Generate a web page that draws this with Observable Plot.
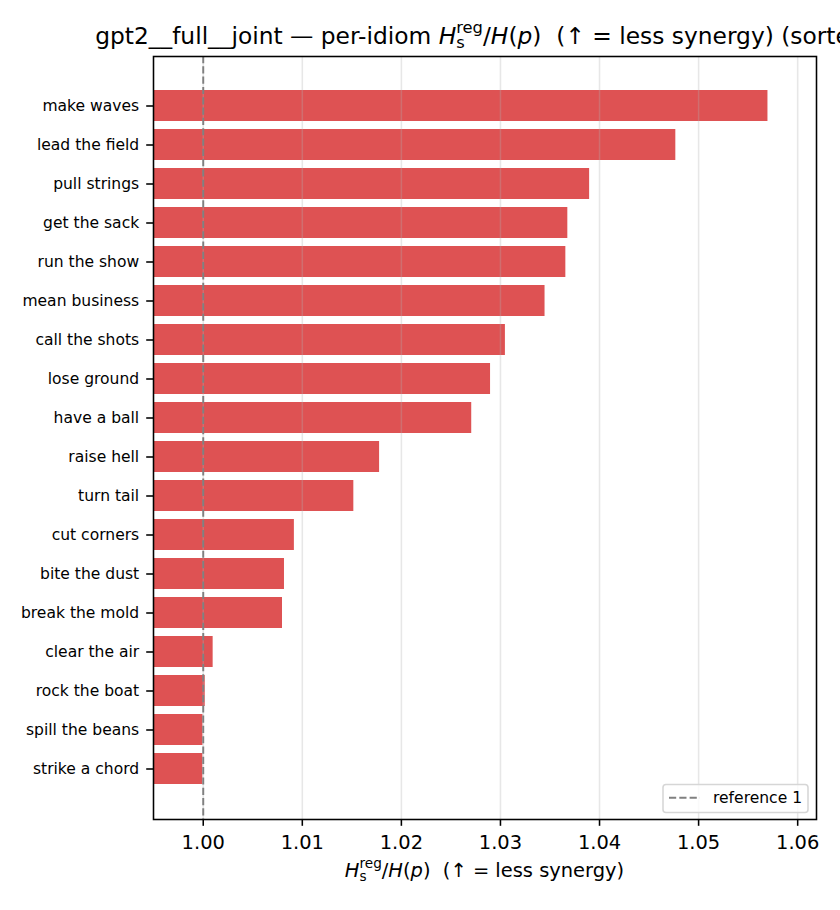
<!DOCTYPE html>
<html>
<head>
<meta charset="utf-8">
<script src="https://cdn.jsdelivr.net/npm/d3@7"></script>
<script src="https://cdn.jsdelivr.net/npm/@observablehq/plot@0.6"></script>
<style>
  html, body { margin: 0; padding: 0; background: white; }
  svg text, svg tspan { white-space: pre; }
</style>
</head>
<body>
<div id="chart"></div>
<script>
const idioms = ["make waves","lead the field","pull strings","get the sack","run the show","mean business","call the shots","lose ground","have a ball","raise hell","turn tail","cut corners","bite the dust","break the mold","clear the air","rock the boat","spill the beans","strike a chord"];
const values = [1.0570,1.0477,1.0390,1.0368,1.0366,1.0345,1.0305,1.0290,1.0271,1.0178,1.0152,1.0092,1.0082,1.0080,1.0010,1.0002,0.99997,0.99996];
const xTicks = [1.00,1.01,1.02,1.03,1.04,1.05,1.06];
const referenceValue = [1];
const legendLabel = "reference 1";

const data = idioms.map((d, i) => ({idiom: d, value: values[i]}));

const W = 840, H = 910;
const mL = 153, mR = 24, mT = 56, mB = 91;
const pt = 140 / 72;

const svg = Plot.plot({
  width: W, height: H,
  marginLeft: mL, marginRight: mR, marginTop: mT, marginBottom: mB,
  style: {fontFamily: "DejaVu Sans", background: "white", color: "black", overflow: "visible"},
  x: {domain: [0.99498, 1.0619]},
  y: {domain: idioms, paddingInner: 0.2, paddingOuter: 0.88},
  marks: [
    Plot.barX(data, {x: "value", y: "idiom", fill: "#d62728", fillOpacity: 0.8, clip: true}),
    Plot.ruleX(xTicks, {stroke: "#b0b0b0", strokeOpacity: 0.3, strokeWidth: 0.8 * pt}),
    Plot.ruleX(referenceValue, {stroke: "gray", strokeWidth: 1 * pt, strokeDasharray: `${3.7 * pt},${1.6 * pt}`}),
    Plot.frame({stroke: "black", strokeWidth: 0.8 * pt}),
    Plot.axisX({ticks: xTicks, tickFormat: d3.format(".2f"), tickSize: 3.5 * pt, tickPadding: 9, fontSize: 10 * pt, strokeWidth: 0.8 * pt, label: null}),
    Plot.axisY({tickSize: 3.5 * pt, tickPadding: 7.5, fontSize: 8 * pt, strokeWidth: 0.8 * pt, label: null})
  ]
});
document.getElementById("chart").appendChild(svg);

function addRich(x, y, fs, anchor, segs) {
  const t = d3.select(svg).append("text")
    .attr("x", x).attr("y", y)
    .attr("font-size", fs)
    .attr("font-family", "DejaVu Sans")
    .attr("fill", "black")
    .attr("text-anchor", anchor);
  let cur = 0, prevW = 0;
  segs.forEach(s => {
    const ts = t.append("tspan").text(s.t);
    const sh = (s.shift || 0) * fs;
    if (sh - cur !== 0) ts.attr("dy", sh - cur);
    cur = sh;
    if (s.italic) ts.attr("font-style", "italic");
    if (s.scale) ts.attr("font-size", fs * s.scale);
    if (s.back) ts.attr("dx", -prevW);
    prevW = ts.node().getComputedTextLength();
  });
  return t;
}

const mathPart = [
  {t: "H", italic: true},
  {t: "s", scale: 0.7, shift: 0.19},
  {t: "reg", scale: 0.7, shift: -0.48, back: true},
  {t: "/"},
  {t: "H", italic: true},
  {t: "("},
  {t: "p", italic: true},
  {t: ")"}
];

const cx = mL + (W - mL - mR) / 2;
addRich(cx, 44, 12 * pt, "middle", [
  {t: "gpt2__full__joint — per-idiom "},
  ...mathPart,
  {t: "  (↑ = less synergy) (sorted)"}
]);

addRich(cx, 877, 10 * pt, "middle", [
  ...mathPart,
  {t: "  (↑ = less synergy)"}
]);

// legend
const lg = d3.select(svg).append("g");
lg.append("rect").attr("x", 663).attr("y", 784.5).attr("width", 145).attr("height", 28).attr("rx", 3)
  .attr("fill", "white").attr("fill-opacity", 0.8).attr("stroke", "#d6d6d6").attr("stroke-width", 0.8 * pt);
lg.append("line").attr("x1", 669).attr("x2", 700).attr("y1", 797.7).attr("y2", 797.7)
  .attr("stroke", "gray").attr("stroke-width", 1 * pt).attr("stroke-dasharray", `${3.7 * pt},${1.6 * pt}`);
lg.append("text").attr("x", 713).attr("y", 803.3).attr("font-size", 8 * pt).attr("font-family", "DejaVu Sans")
  .attr("text-anchor", "start").attr("fill", "black").text(legendLabel);
</script>
</body>
</html>
